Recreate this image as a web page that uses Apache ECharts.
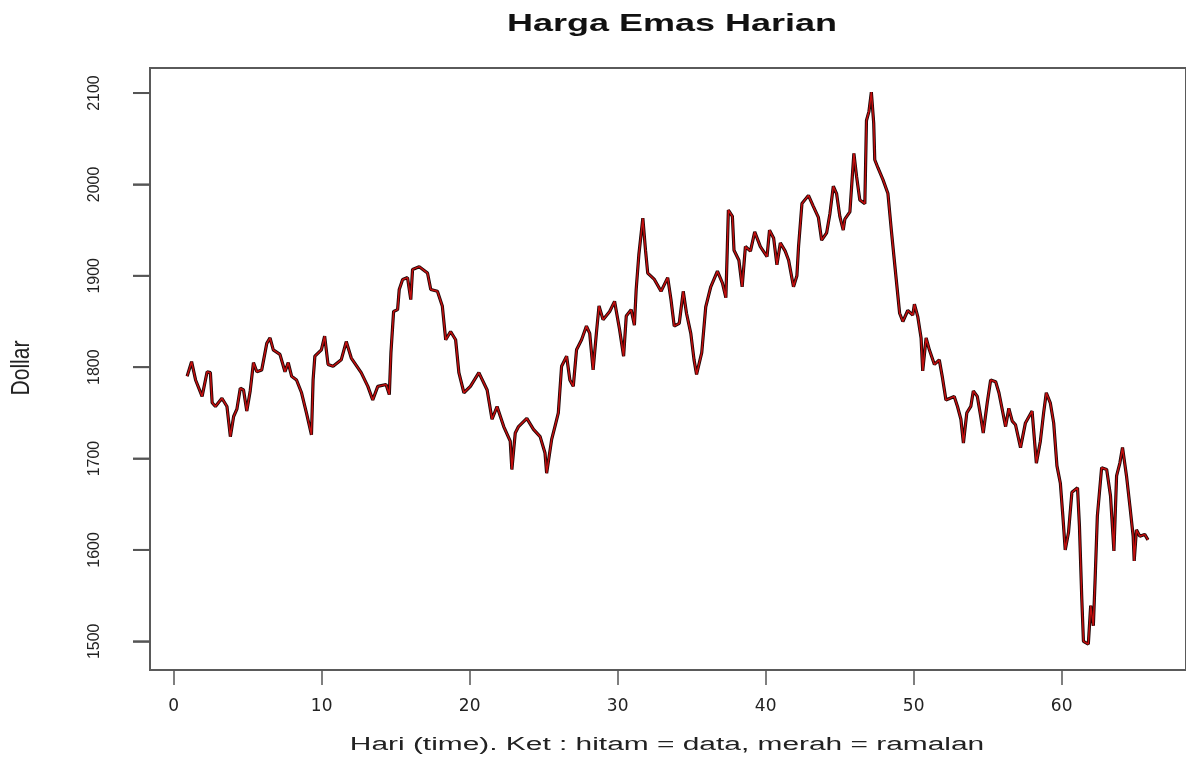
<!DOCTYPE html>
<html>
<head>
<meta charset="utf-8">
<title>Harga Emas Harian</title>
<script src="https://cdn.jsdelivr.net/npm/echarts@6/dist/echarts.min.js"></script>
<style>
  html, body { margin: 0; padding: 0; background: #fff; }
  #goldChart { width: 1186px; height: 766px; }
</style>
</head>
<body>
<div id="goldChart"></div>
<script>
// hari (sumbu x) dan harga emas (dollar)
var dayX = [
  0.91, 1.21, 1.48, 1.92, 2.26, 2.48, 2.60, 2.82, 3.26, 3.60, 3.83, 4.05, 4.27, 4.50, 4.72, 4.94,
  5.17, 5.39, 5.62, 5.95, 6.29, 6.51, 6.73, 7.18, 7.52, 7.74, 7.97, 8.30, 8.64, 8.97, 9.31, 9.42,
  9.54, 9.98, 10.20, 10.43, 10.77, 11.32, 11.66, 12.00, 12.67, 13.12, 13.45, 13.79, 14.35, 14.57,
  14.68, 14.86, 15.13, 15.24, 15.47, 15.80, 16.02, 16.14, 16.59, 17.15, 17.37, 17.82, 18.15, 18.38,
  18.71, 19.05, 19.27, 19.61, 20.05, 20.62, 21.18, 21.51, 21.85, 22.30, 22.74, 22.85, 23.08, 23.30,
  23.86, 24.31, 24.76, 25.09, 25.20, 25.54, 25.76, 25.99, 26.21, 26.55, 26.77, 27.00, 27.22, 27.56,
  27.89, 28.11, 28.34, 28.56, 28.74, 29.01, 29.46, 29.79, 30.13, 30.40, 30.58, 30.91, 31.13, 31.25,
  31.43, 31.70, 31.88, 32.03, 32.48, 32.93, 33.38, 33.60, 33.82, 34.16, 34.43, 34.65, 34.94, 35.16,
  35.33, 35.68, 35.95, 36.29, 36.74, 37.08, 37.31, 37.41, 37.48, 37.75, 37.86, 38.19, 38.41, 38.63,
  38.97, 39.26, 39.64, 40.09, 40.26, 40.54, 40.76, 40.99, 41.32, 41.55, 41.88, 42.11, 42.22, 42.45,
  42.89, 43.22, 43.56, 43.78, 44.12, 44.34, 44.57, 44.79, 45.01, 45.24, 45.35, 45.69, 45.96, 46.14,
  46.36, 46.70, 46.81, 46.98, 47.14, 47.30, 47.37, 47.59, 47.93, 48.26, 48.49, 48.71, 49.05, 49.27,
  49.60, 49.94, 50.05, 50.28, 50.50, 50.61, 50.84, 51.06, 51.40, 51.73, 51.95, 52.18, 52.74, 52.96,
  53.19, 53.36, 53.59, 53.86, 54.03, 54.30, 54.53, 54.70, 54.97, 55.20, 55.54, 55.76, 55.98, 56.21,
  56.43, 56.66, 56.88, 57.22, 57.55, 58.00, 58.29, 58.56, 58.78, 58.96, 59.23, 59.46, 59.68, 59.91,
  60.08, 60.24, 60.46, 60.69, 61.07, 61.20, 61.36, 61.47, 61.80, 61.96, 62.14, 62.26, 62.41, 62.70,
  63.04, 63.30, 63.53, 63.71, 63.93, 64.11, 64.38, 64.61, 64.83, 64.90, 65.05, 65.28, 65.61, 65.83
];
var hargaEmas = [
  1790, 1806, 1786, 1768, 1795, 1794, 1761, 1757, 1766, 1757, 1724, 1746, 1754, 1777, 1775, 1752,
  1774, 1805, 1795, 1797, 1826, 1832, 1819, 1814, 1795, 1805, 1790, 1786, 1772, 1750, 1726, 1786,
  1812, 1819, 1834, 1803, 1801, 1808, 1828, 1810, 1794, 1779, 1764, 1779, 1781, 1770,
  1816, 1861, 1863, 1885, 1896, 1898, 1874, 1907, 1910, 1903, 1885, 1883, 1867, 1830,
  1839, 1830, 1794, 1772, 1779, 1794, 1775, 1743, 1757, 1735, 1719, 1688, 1728, 1735,
  1744, 1732, 1724, 1706, 1684, 1721, 1735, 1750, 1801, 1812, 1786, 1779, 1819, 1830,
  1845, 1837, 1797, 1837, 1867, 1852, 1861, 1872, 1841, 1812, 1856, 1863, 1846, 1885,
  1923, 1963, 1928, 1903, 1896, 1883, 1898, 1874, 1845, 1848, 1883, 1859, 1837, 1808,
  1792, 1816, 1866, 1888, 1905, 1892, 1876, 1932, 1972, 1965, 1928, 1917, 1888, 1932,
  1927, 1948, 1932, 1921, 1950, 1941, 1912, 1936, 1927, 1917, 1888, 1900, 1932, 1979,
  1988, 1976, 1964, 1939, 1947, 1968, 1998, 1990, 1965, 1950, 1962, 1970, 2034, 2009,
  1983, 1979, 2070, 2080, 2101, 2067, 2027, 2018, 2005, 1990, 1950, 1914, 1859, 1850,
  1862, 1857, 1869, 1855, 1832, 1796, 1832, 1819, 1803, 1808, 1788, 1764, 1768, 1757,
  1743, 1717, 1750, 1757, 1774, 1768, 1746, 1728, 1761, 1786, 1784, 1772, 1754, 1735,
  1755, 1741, 1737, 1712, 1739, 1752, 1695, 1719, 1750, 1772, 1761, 1739, 1692, 1673,
  1637, 1600, 1619, 1663, 1668, 1626, 1546, 1500, 1497, 1539, 1517, 1568, 1637, 1690,
  1688, 1659, 1599, 1681, 1695, 1712, 1681, 1648, 1615, 1588, 1622, 1615, 1617, 1611
];
var xTicks = [0, 10, 20, 30, 40, 50, 60];
var yTicks = [1500, 1600, 1700, 1800, 1900, 2000, 2100];
var xMin = -1.6, xMax = 68.4;
var yMin = 1468.6, yMax = 2127.4;

var pairs = [];
for (var i = 0; i < dayX.length; i++) {
  pairs.push([dayX[i], hargaEmas[i]]);
}

var myChart = echarts.init(document.querySelector('#goldChart'));

var option = {
  animation: false,
  grid: {
    show: true,
    left: 150,
    top: 68,
    width: 1043,
    height: 602,
    borderColor: '#5a5a5a',
    borderWidth: 2
  },
  xAxis: {
    type: 'value',
    min: xMin,
    max: xMax,
    axisLine: { show: true, onZero: false, lineStyle: { color: '#5a5a5a', width: 2 } },
    splitLine: { show: false },
    axisTick: {
      show: true,
      customValues: xTicks,
      length: 15,
      lineStyle: { color: '#555', width: 1.5 }
    },
    axisLabel: {
      customValues: xTicks,
      margin: 28,
      color: '#222',
      fontSize: 17,
      fontFamily: 'DejaVu Sans'
    }
  },
  yAxis: {
    type: 'value',
    min: yMin,
    max: yMax,
    axisLine: { show: true, onZero: false, lineStyle: { color: '#5a5a5a', width: 2 } },
    splitLine: { show: false },
    axisTick: {
      show: true,
      customValues: yTicks,
      length: 17,
      lineStyle: { color: '#555', width: 1.5 }
    },
    axisLabel: {
      customValues: yTicks,
      rotate: 90,
      margin: 47,
      color: '#222',
      fontSize: 16,
      fontFamily: 'Liberation Sans',
      formatter: function (v) { return String(v); }
    }
  },
  graphic: [
    {
      id: 'judul',
      type: 'text',
      x: 672,
      y: 24,
      scaleX: 1.5,
      style: {
        text: 'Harga Emas Harian',
        font: 'bold 24px "Liberation Sans"',
        textAlign: 'center', align: 'center',
        textVerticalAlign: 'middle', verticalAlign: 'middle',
        fill: '#111'
      }
    },
    {
      id: 'namaX',
      type: 'text',
      x: 667,
      y: 745,
      scaleX: 1.66,
      style: {
        text: 'Hari (time). Ket : hitam = data, merah = ramalan',
        font: '18px "Liberation Sans"',
        textAlign: 'center', align: 'center',
        textVerticalAlign: 'middle', verticalAlign: 'middle',
        fill: '#222'
      }
    },
    {
      id: 'namaY',
      type: 'text',
      x: 22,
      y: 368,
      rotation: Math.PI / 2,
      scaleX: 1.17,
      scaleY: 1.4,
      style: {
        text: 'Dollar',
        font: '18px "Liberation Sans"',
        textAlign: 'center', align: 'center',
        textVerticalAlign: 'middle', verticalAlign: 'middle',
        fill: '#222'
      }
    }
  ],
  series: [
    {
      name: 'data',
      type: 'line',
      data: pairs,
      showSymbol: false,
      lineStyle: { color: '#1a0505', width: 3.2 }
    },
    {
      name: 'ramalan',
      type: 'line',
      data: pairs,
      showSymbol: false,
      lineStyle: { color: '#e01010', width: 1.5, opacity: 0.85 }
    }
  ]
};

myChart.setOption(option);

// cadangan: tick sumbu y sebagai kotak kecil, posisinya lewat skala sumbu
function drawYTicks() {
  var axisX = myChart.convertToPixel({ xAxisIndex: 0 }, xMin);
  var ticks = [];
  for (var k = 0; k < yTicks.length; k++) {
    var py = myChart.convertToPixel({ yAxisIndex: 0 }, yTicks[k]);
    ticks.push({
      id: 'ytick' + k,
      type: 'rect',
      z: 100,
      silent: true,
      shape: { x: axisX - 17, y: py - 1, width: 17, height: 2 },
      style: { fill: '#555' }
    });
  }
  myChart.setOption({ graphic: ticks });
}
drawYTicks();

window.addEventListener('resize', function () {
  myChart.resize();
  drawYTicks();
});
</script>
</body>
</html>
